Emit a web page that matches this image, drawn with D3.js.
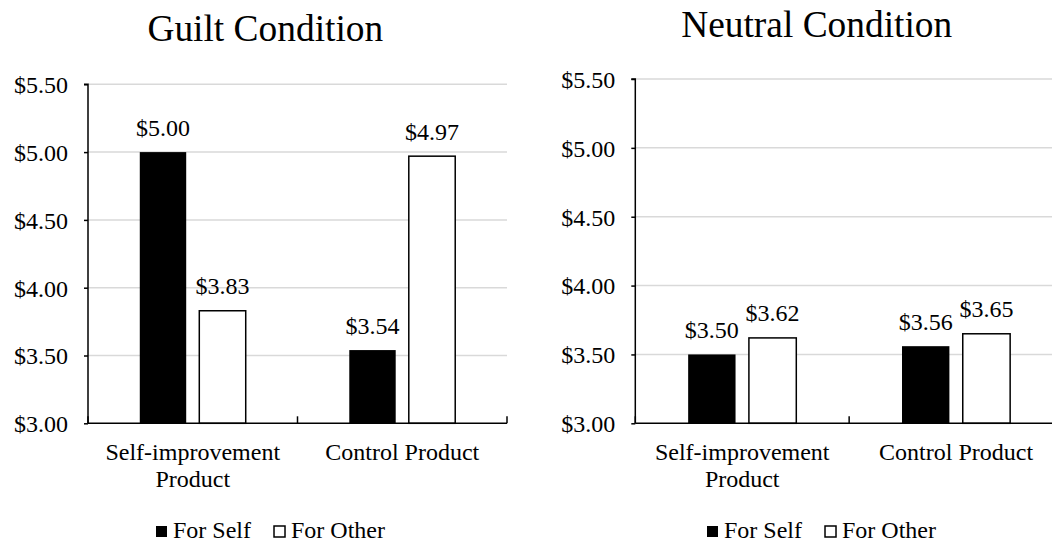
<!DOCTYPE html>
<html>
<head>
<meta charset="utf-8">
<script src="https://cdn.jsdelivr.net/npm/d3@7"></script>
<style>
  html, body { margin: 0; padding: 0; background: #fff; }
  svg { display: block; }
  svg text { font-family: "Liberation Serif", "Times New Roman", serif !important; }
</style>
</head>
<body>
<svg id="chart" width="1052" height="544"></svg>
<script>
// ---- data ----
const categories = ["Self-improvement Product", "Control Product"];
const seriesNames = ["For Self", "For Other"];
const seriesFill = ["#000000", "#ffffff"];
const guiltSelf = [5.00, 3.54];
const guiltOther = [3.83, 4.97];
const neutralSelf = [3.50, 3.56];
const neutralOther = [3.62, 3.65];
const yTicks = [3.00, 3.50, 4.00, 4.50, 5.00, 5.50];
const panelTitles = ["Guilt Condition", "Neutral Condition"];

const FONT = '"Liberation Serif", "Times New Roman", serif';
const svg = d3.select("#chart");
const fmt = v => "$" + d3.format(".2f")(v);

const panels = [
  { title: panelTitles[0], self: guiltSelf, other: guiltOther,
    x0: 88, x1: 507, yTop: 84.3, yBot: 423.3, titleX: 265.3, titleY: 41, legendCX: 270.5 },
  { title: panelTitles[1], self: neutralSelf, other: neutralOther,
    x0: 635.3, x1: 1063, yTop: 79, yBot: 423.3, titleX: 816.7, titleY: 36.7, legendCX: 821.5 }
];

function wrap(textSel, width) {
  textSel.each(function() {
    const text = d3.select(this);
    const words = text.text().split(/\s+/);
    const x = text.attr("x");
    const y = +text.attr("y");
    text.text(null);
    let line = [];
    let lineNo = 0;
    let tspan = text.append("tspan").attr("x", x).attr("y", y);
    words.forEach(w => {
      line.push(w);
      tspan.text(line.join(" "));
      if (tspan.node().getComputedTextLength() > width && line.length > 1) {
        line.pop();
        tspan.text(line.join(" "));
        line = [w];
        lineNo++;
        tspan = text.append("tspan").attr("x", x).attr("y", y + lineNo * 27).text(w);
      }
    });
  });
}

panels.forEach(p => {
  const g = svg.append("g").style("font-family", FONT);
  const y = d3.scaleLinear().domain([3.0, 5.5]).range([p.yBot, p.yTop]);
  const x0 = d3.scaleBand().domain(categories).range([p.x0, p.x1]).paddingInner(0).paddingOuter(0);
  const x1 = d3.scaleBand().domain(seriesNames).range([0, x0.bandwidth()]).paddingInner(0.22).paddingOuter(0.87);

  // title
  g.append("text").attr("x", p.titleX).attr("y", p.titleY)
    .attr("text-anchor", "middle").attr("font-size", 37.4).attr("fill", "#000")
    .style("font-family", FONT)
    .text(p.title);

  // gridlines
  g.append("g").selectAll("line").data(yTicks.filter(t => t > 3.0)).join("line")
    .attr("x1", p.x0).attr("x2", p.x1)
    .attr("y1", d => y(d)).attr("y2", d => y(d))
    .attr("stroke", "#d9d9d9").attr("stroke-width", 1.5);

  // y axis
  const yAxis = d3.axisLeft(y).tickValues(yTicks).tickFormat(fmt).tickSize(4).tickPadding(16);
  const ya = g.append("g").attr("transform", `translate(${p.x0},0)`).call(yAxis)
    .attr("font-family", null).style("font-family", FONT);
  ya.select(".domain").attr("stroke", "#000").attr("stroke-width", 1.5).attr("d", `M-4,${p.yTop}H0V${p.yBot}`);
  ya.selectAll(".tick line").attr("stroke", "#000").attr("stroke-width", 1.5);
  ya.selectAll(".tick text").attr("font-size", 24).style("font-family", FONT)
    .attr("fill", "#000").attr("dy", "0.35em");

  // bars
  const rows = categories.map((c, i) => ({ cat: c, vals: [p.self[i], p.other[i]] }));
  const grp = g.append("g").selectAll("g").data(rows).join("g")
    .attr("transform", d => `translate(${x0(d.cat)},0)`);
  grp.selectAll("rect").data(d => d.vals.map((v, j) => ({ s: seriesNames[j], v, j }))).join("rect")
    .attr("x", d => x1(d.s)).attr("width", x1.bandwidth())
    .attr("y", d => y(d.v)).attr("height", d => y(3.0) - y(d.v))
    .attr("fill", d => seriesFill[d.j]).attr("stroke", "#000")
    .attr("stroke-width", d => d.j === 1 ? 1.5 : 0);
  grp.selectAll("text.val").data(d => d.vals.map((v, j) => ({ s: seriesNames[j], v, j }))).join("text")
    .attr("class", "val")
    .attr("x", d => x1(d.s) + x1.bandwidth() / 2).attr("y", d => y(d.v) - 16.5)
    .attr("text-anchor", "middle").attr("font-size", 24).attr("fill", "#000")
    .style("font-family", FONT)
    .text(d => fmt(d.v));

  // x axis
  const xa = g.append("g").attr("transform", `translate(0,${p.yBot})`);
  xa.append("line").attr("x1", p.x0).attr("x2", p.x1).attr("y1", 0).attr("y2", 0)
    .attr("stroke", "#000").attr("stroke-width", 1.5);
  const bounds = categories.map(c => x0(c)).concat([x0(categories[categories.length - 1]) + x0.bandwidth()]);
  xa.selectAll("line.tk").data(bounds).join("line").attr("class", "tk")
    .attr("x1", d => d).attr("x2", d => d).attr("y1", 0).attr("y2", -7)
    .attr("stroke", "#000").attr("stroke-width", 1.5);
  xa.selectAll("text").data(categories).join("text")
    .attr("x", d => x0(d) + x0.bandwidth() / 2).attr("y", 37)
    .attr("text-anchor", "middle").attr("font-size", 24).attr("fill", "#000")
    .style("font-family", FONT)
    .text(d => d)
    .call(wrap, x0.bandwidth() - 10);

  // legend
  const lg = g.append("g");
  const items = lg.selectAll("g").data(seriesNames).join("g");
  items.append("rect").attr("width", 11).attr("height", 11).attr("y", 526)
    .attr("fill", (d, i) => seriesFill[i]).attr("stroke", "#000").attr("stroke-width", (d, i) => i === 1 ? 1.5 : 0);
  items.append("text").attr("x", 17).attr("y", 538).attr("font-size", 24).attr("fill", "#000")
    .style("font-family", FONT).text(d => d);
  let offs = [];
  let cur = 0;
  items.each(function(d, i) {
    const w = this.getBBox().width;
    offs.push(cur);
    cur += w + 23;
  });
  const total = cur - 23;
  items.attr("transform", (d, i) => `translate(${p.legendCX - total / 2 + offs[i]},0)`);
});
</script>
</body>
</html>
